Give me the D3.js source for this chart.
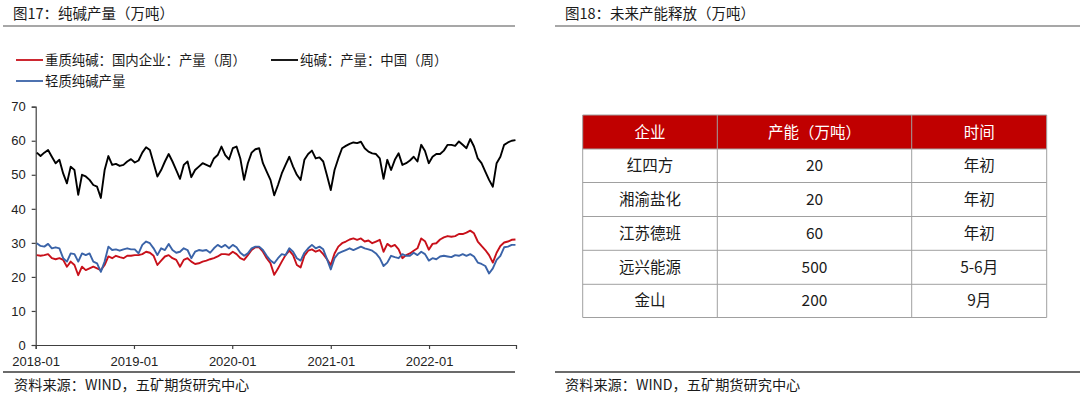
<!DOCTYPE html>
<html><head><meta charset="utf-8">
<script src="https://cdn.jsdelivr.net/npm/d3@7"></script>
<style>
html,body{margin:0;padding:0;background:#fff;}
svg{display:block;}
</style></head>
<body><svg id="c" width="1080" height="402"></svg>
<script>
// ---------- data ----------
const dates = [
"2018-01-05","2018-01-19","2018-02-02","2018-02-16","2018-03-02","2018-03-16","2018-03-30","2018-04-13","2018-04-27","2018-05-11",
"2018-05-25","2018-06-08","2018-06-22","2018-07-06","2018-07-20","2018-08-03","2018-08-17","2018-08-31","2018-09-14","2018-09-28",
"2018-10-12","2018-10-26","2018-11-09","2018-11-23","2018-12-07","2018-12-21",
"2019-01-04","2019-01-18","2019-02-01","2019-02-15","2019-03-01","2019-03-15","2019-03-29","2019-04-12","2019-04-26","2019-05-10",
"2019-05-24","2019-06-07","2019-06-21","2019-07-05","2019-07-19","2019-08-02","2019-08-16","2019-08-30","2019-09-13","2019-09-27",
"2019-10-11","2019-10-25","2019-11-08","2019-11-22","2019-12-06","2019-12-20",
"2020-01-03","2020-01-17","2020-01-31","2020-02-14","2020-02-28","2020-03-13","2020-03-27","2020-04-10","2020-04-24","2020-05-08",
"2020-05-22","2020-06-05","2020-06-19","2020-07-03","2020-07-17","2020-07-31","2020-08-14","2020-08-28","2020-09-11","2020-09-25",
"2020-10-09","2020-10-23","2020-11-06","2020-11-20","2020-12-04","2020-12-18",
"2021-01-01","2021-01-15","2021-01-29","2021-02-12","2021-02-26","2021-03-12","2021-03-26","2021-04-09","2021-04-23","2021-05-07",
"2021-05-21","2021-06-04","2021-06-18","2021-07-02","2021-07-16","2021-07-30","2021-08-13","2021-08-27","2021-09-10","2021-09-24",
"2021-10-08","2021-10-22","2021-11-05","2021-11-19","2021-12-03","2021-12-17","2021-12-31",
"2022-01-14","2022-01-28","2022-02-11","2022-02-25","2022-03-11","2022-03-25","2022-04-08","2022-04-22","2022-05-06","2022-05-20",
"2022-06-03","2022-06-17","2022-07-01","2022-07-15","2022-07-29","2022-08-12","2022-08-26","2022-09-09","2022-09-23","2022-10-07",
"2022-10-21","2022-11-04","2022-11-18"];

const sodaTotal = [
56.5,55.5,56.5,57.3,55.3,53.4,54.4,50.4,47.5,52.4,
51.4,44.1,50,49.5,48.5,47,46.5,43.2,51.4,55.5,
52.9,53.2,52.6,52.9,53.9,54.6,53.6,54.2,56.5,58.1,
57.3,53.4,49.5,51.4,53.9,56.1,53.9,51.4,48.8,52.9,
53.9,49.3,51.4,52.4,53.4,52.9,52.4,54.8,55.8,58.3,
55.8,54.5,57.8,58.3,54.8,48.5,53.4,56.5,57.5,57.8,
53.4,50.9,48.5,44,47,50.4,52.9,55.3,52.4,50,
48.5,54.4,56.1,57.1,54.8,55.1,53.9,49.8,45.5,51.4,
54.8,57.8,58.5,59.1,59.5,59.3,59.7,57.8,56.8,56.3,
56.1,54.8,48.8,54.4,51.4,54.4,56.3,52.9,53.4,54.2,
55.3,53.9,58.8,57,53.4,55.3,56.1,56.1,57.1,58.8,
58.8,58.5,59.8,58.8,57.8,60.5,58.3,54.8,53.4,50.9,
48.5,46.5,53.4,55.3,58.8,59.5,60,60.2];

const heavySoda = [
26.4,26.2,26.4,26.7,25.5,25.2,25.5,25,23,24.5,
23.5,20.5,23,22,22.5,23,22.5,22,23.5,26,
25.5,26.2,25.8,25.5,26.2,26.2,26.4,26.4,26.7,27.4,
27.1,26.2,23.5,24.8,26,26.4,25.5,25,23,25,
25.5,24.5,23.8,24,24.5,24.8,25.2,25.5,26,26.7,
26.7,26.5,27.4,26.7,25.5,25,26.4,27.9,28.7,28.7,
27.4,25.5,24,20.6,22.5,24.5,26.4,27.7,26.4,23.5,
22.8,26.2,27.7,28.1,27.4,27.9,26.7,25.2,23.5,26.9,
28.9,29.9,30.4,31,31.3,30.9,31.3,30.4,30.7,29.9,
30.4,30.9,27.4,29.7,28.9,29.4,28.1,25.5,26.4,26.9,
27.7,28.4,31.3,30.5,28,29.7,29.9,31,31.6,32,
31.8,32,32.6,32.6,33,33.6,32.8,30.4,29.1,27.9,
26.4,24.2,27.1,29.1,30.1,30.4,30.9,31];

const lightSoda = [
29.9,29.1,28.9,29.7,28.4,28.7,28.4,25.5,24.5,26.9,
26.7,24.5,26.9,26.4,26.9,24.5,24,21.5,24.5,28.9,
27.9,28.1,27.7,28.1,28.4,28.1,28.1,26.9,29.4,30.4,
29.9,28.4,26.4,28.4,27.9,29.7,27.9,27.1,27.4,28.4,
27.9,25.5,27.4,27.9,27.7,27.9,27.1,28.4,29.4,28.7,
29.4,28.4,29.4,28.7,27.1,26.2,26.9,28.4,28.9,28.9,
27.9,26.2,24.8,24,25.5,26.7,26.4,28.4,27.4,25.5,
24.8,27.1,28.4,29.4,28.4,28.9,28.1,25.2,22.2,25.5,
26.9,27.4,27.9,28.4,27.9,28.4,28.9,28.4,28.1,27.7,
26.9,25.5,23.2,24.2,26.2,25.8,25.5,26.7,26.2,26.2,
27.1,26.4,27.4,26.7,24.8,25.5,25.2,26,26.2,26,
25.8,26.4,26.2,26.7,26.2,26.7,26,24.2,23.8,23.2,
21,22.5,25,26.2,28.7,28.9,29.4,29.4];

const seriesNames = ["重质纯碱：国内企业：产量（周）","纯碱：产量：中国（周）","轻质纯碱产量"];
const seriesColors = ["#C8101A","#000000","#3A63A8"];
const yTicks = [0,10,20,30,40,50,60,70];
const xTickLabels = ["2018-01","2019-01","2020-01","2021-01","2022-01"];

const tableHeaders = ["企业","产能（万吨）","时间"];
const companies = ["红四方","湘渝盐化","江苏德班","远兴能源","金山"];
const capacities = ["20","20","60","500","200"];
const timings = ["年初","年初","年初","5-6月","9月"];

// ---------- drawing ----------
const svg = d3.select("#c");
svg.append("rect").attr("width",1080).attr("height",402).attr("fill","#fff");
const cjk = "'Noto Sans CJK SC','Noto Sans',sans-serif";
const latin = "'Liberation Sans',Arial,sans-serif";

// titles
svg.append("text").attr("x",13).attr("y",19).attr("font-family",cjk).attr("font-size",14.5)
  .attr("fill","#1a1a1a").text("图17：纯碱产量（万吨）");
svg.append("text").attr("x",565).attr("y",19).attr("font-family",cjk).attr("font-size",14.5)
  .attr("fill","#1a1a1a").text("图18：未来产能释放（万吨）");
svg.append("line").attr("x1",3).attr("x2",515).attr("y1",26).attr("y2",26).attr("stroke","#8a8a8a").attr("stroke-width",1.5);
svg.append("line").attr("x1",555).attr("x2",1080).attr("y1",26).attr("y2",26).attr("stroke","#8a8a8a").attr("stroke-width",1.5);

// footers
svg.append("line").attr("x1",3).attr("x2",515).attr("y1",372).attr("y2",372).attr("stroke","#3a3a3a").attr("stroke-width",1.3);
svg.append("line").attr("x1",555).attr("x2",1080).attr("y1",372).attr("y2",372).attr("stroke","#3a3a3a").attr("stroke-width",1.3);
svg.append("text").attr("x",14).attr("y",390).attr("font-family",cjk).attr("font-size",14.2).attr("fill","#1a1a1a").text("资料来源：WIND，五矿期货研究中心");
svg.append("text").attr("x",565).attr("y",390).attr("font-family",cjk).attr("font-size",14.2).attr("fill","#1a1a1a").text("资料来源：WIND，五矿期货研究中心");

// scales
const parse = d3.timeParse("%Y-%m-%d");
const dts = dates.map(parse);
const x = d3.scaleTime().domain([parse("2018-01-01"), parse("2022-11-20")]).range([35.7, 516]);
const y = d3.scaleLinear().domain([0,70]).range([345, 106.7]);

// axes
const yAxis = svg.append("g").attr("transform","translate(35.7,0)")
  .call(d3.axisLeft(y).tickValues(yTicks).tickSize(4).tickPadding(6));
const xAxis = svg.append("g").attr("transform","translate(0,345)")
  .call(d3.axisBottom(x).tickValues(xTickLabels.map(s=>parse(s+"-01"))).tickSize(4).tickPadding(7)
  .tickFormat((d,i)=>xTickLabels[i]));
[yAxis,xAxis].forEach(g=>{
  g.select(".domain").attr("stroke","#404040").attr("stroke-width",1.2);
  g.selectAll(".tick line").attr("stroke","#404040").attr("stroke-width",1.2);
  g.selectAll("text").attr("font-family",latin).attr("font-size",13).attr("fill","#222");
});
xAxis.selectAll("text").attr("dy","0.75em");

// lines
const seriesData = [heavySoda, sodaTotal, lightSoda];
const drawOrder = [1,0,2];
const line = d3.line().x((d,i)=>x(dts[i])).y(d=>y(d));
drawOrder.forEach(k=>{
  svg.append("path").datum(seriesData[k]).attr("d",line)
    .attr("fill","none").attr("stroke",seriesColors[k]).attr("stroke-width",1.9)
    .attr("stroke-linejoin","round");
});

// legend
const legendPos = [[16,60],[271,60],[16,81]];
seriesNames.forEach((n,k)=>{
  const [lx,ly] = legendPos[k];
  svg.append("line").attr("x1",lx).attr("x2",lx+27).attr("y1",ly).attr("y2",ly)
    .attr("stroke",seriesColors[k]).attr("stroke-width",1.8);
  svg.append("text").attr("x",lx+29).attr("y",ly+4.5).attr("font-family",cjk).attr("font-size",13.4)
    .attr("fill","#1a1a1a").text(n);
});

// table
const colX = [582.7, 717.3, 911.7, 1046.7];
const rowY = [115, 149, 182.5, 216.5, 250.3, 284.3, 317.5];
const tg = svg.append("g");
tg.append("rect").attr("x",colX[0]).attr("y",rowY[0]).attr("width",colX[3]-colX[0]).attr("height",rowY[1]-rowY[0]).attr("fill","#C00000");
const rows = companies.map((c,i)=>[c, capacities[i], timings[i]]);
for (let r=1;r<rowY.length;r++){
  tg.append("line").attr("x1",colX[0]).attr("x2",colX[3]).attr("y1",rowY[r]).attr("y2",rowY[r]).attr("stroke","#a0a0a0").attr("stroke-width",1);
}
tg.append("line").attr("x1",colX[0]).attr("x2",colX[3]).attr("y1",rowY[0]).attr("y2",rowY[0]).attr("stroke","#a0a0a0").attr("stroke-width",1);
colX.forEach((cx)=>{
  tg.append("line").attr("x1",cx).attr("x2",cx).attr("y1",rowY[0]).attr("y2",rowY[6]).attr("stroke","#a0a0a0").attr("stroke-width",1);
});
tableHeaders.forEach((h,ci)=>{
  tg.append("text").attr("x",(colX[ci]+colX[ci+1])/2).attr("y",(rowY[0]+rowY[1])/2+5.5)
    .attr("text-anchor","middle").attr("font-family",cjk).attr("font-size",15.5).attr("fill","#fff").text(h);
});
rows.forEach((row,ri)=>{
  row.forEach((v,ci)=>{
    tg.append("text").attr("x",(colX[ci]+colX[ci+1])/2).attr("y",(rowY[ri+1]+rowY[ri+2])/2+5.5)
      .attr("text-anchor","middle").attr("font-family",cjk).attr("font-size",15.5).attr("fill","#1a1a1a").text(v);
  });
});
</script></body></html>
